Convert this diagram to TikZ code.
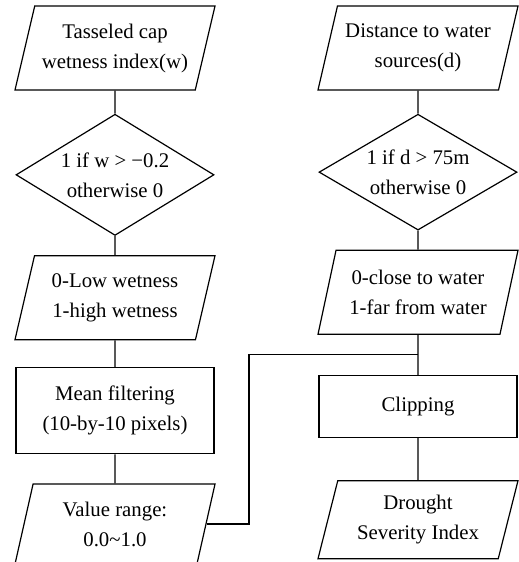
\documentclass[tikz,border=0pt]{standalone}
\usepackage{fontspec}
\setmainfont{Liberation Serif}
\usetikzlibrary{shapes.geometric, positioning}

\begin{document}
\begin{tikzpicture}[
  x=0.5pt, y=-0.5pt,
  font=\fontsize{10.4}{15}\selectfont,
  line width=0.6pt,
  io/.style={draw, trapezium, trapezium left angle=68, trapezium right angle=112,
             trapezium stretches body, align=center, inner sep=0pt,
             minimum width=100pt, minimum height=42pt},
  test/.style={draw, diamond, align=center, inner sep=-4pt,
               minimum width=99pt, minimum height=57.5pt},
  box/.style={draw, rectangle, align=center, minimum width=99pt, minimum height=43pt},
]
\useasboundingbox (0,0) rectangle (519,562);

%% left column: wetness
\node[io] (wet) at (115,48) {Tasseled cap\\wetness index(w)};
\node[test, below=11.5pt of wet] (wtest) {1 if w > −0.2\\otherwise 0};
\node[io, below=9.5pt of wtest] (wbin) {0-Low wetness\\1-high wetness};
\node[box, below=13.5pt of wbin] (filt) {Mean filtering\\(10-by-10 pixels)};
\node[io, below=14.5pt of filt, minimum height=40pt] (range) {Value range:\\0.0\textasciitilde 1.0};

%% right column: distance
\node[io] (dist) at (418,48) {Distance to water\\sources(d)};
\node[test, below=11.5pt of dist] (dtest) {1 if d > 75m\\otherwise 0};
\node[io, below=9.5pt of dtest] (dbin) {0-close to water\\1-far from water};
\node[box, below=20pt of dbin, minimum height=31pt] (clip) {Clipping};
\node[io, below=21pt of clip, minimum height=39pt] (dsi) {Drought\\Severity Index};

\coordinate[below=10pt of dbin.south] (join);
\coordinate[left=84.5pt of join] (bend);

\draw (wet) -- (wtest);
\draw (wtest) -- (wbin);
\draw (wbin) -- (filt);
\draw (filt) -- (range);
\draw (dist) -- (dtest);
\draw (dtest) -- (dbin);
\draw (dbin) -- (clip);
\draw (clip) -- (dsi);
\draw (range.east) -| (bend) -- (join);
\end{tikzpicture}
\end{document}
